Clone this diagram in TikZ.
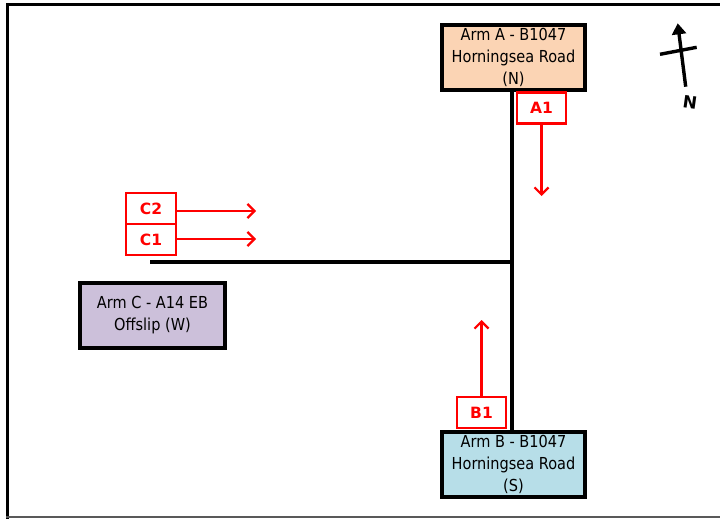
\documentclass[tikz,border=0pt]{standalone}
\usepackage{fontspec}
\setmainfont{DejaVu Sans}
\newfontfamily\armfont{DejaVu Sans}[FakeStretch=0.88]
\usetikzlibrary{arrows.meta}
\definecolor{peach}{HTML}{FBD4B4}
\definecolor{paleblue}{HTML}{B7DEE8}
\definecolor{lavender}{HTML}{CCC0DA}
\begin{document}
\begin{tikzpicture}[x=1pt,y=1pt,
  armbox/.style={draw=black,line width=3.2pt,minimum height=65pt,align=center,inner sep=0pt,
    font=\armfont\fontsize{16.5}{22}\selectfont},
  lbl/.style={draw=red,line width=2.4pt,text=red,minimum width=49pt,minimum height=31pt,inner sep=0pt,
    font=\fontsize{15.5}{17}\selectfont\bfseries},
  road/.style={line width=3.6pt,black},
  flow/.style={red,line width=2.2pt,-{Straight Barb[length=7pt,width=14pt,line width=2.2pt]}}]
\useasboundingbox (0,0) rectangle (720,-519);
% frame
\draw[line width=3.2pt] (7.5,-519) -- (7.5,-4.5) -- (720,-4.5);
\draw[line width=1.5pt,gray!70!black] (6,-517) -- (720,-517);
% arm boxes
\node[armbox,fill=peach,minimum width=143pt] (armA) at (513.5,-57.5) {Arm A - B1047\\Horningsea Road\\(N)};
\node[armbox,fill=paleblue,minimum width=143pt] (armB) at (513.5,-464.5) {Arm B - B1047\\Horningsea Road\\(S)};
\node[armbox,fill=lavender,minimum width=145pt] (armC) at (152.5,-315.5) {Arm C - A14 EB\\Offslip (W)};
% roads
\coordinate (J) at (512,-262);
\coordinate (W) at (150,-262);
\draw[road] (armA.south -| J) -- (armB.north -| J);
\draw[road] (W) -- (J);
% flow labels
\node[lbl] (A1) at (541.5,-108) {A1};
\node[lbl] (B1) at (481.5,-412.5) {B1};
\node[lbl,minimum width=50pt] (C2) at (151,-208.5) {C2};
\node[lbl,minimum width=50pt] (C1) at (151,-239.5) {C1};
\coordinate (a1end) at (541.5,-196);
\coordinate (b1end) at (481.5,-320);
\coordinate (c2end) at (256,-211);
\coordinate (c1end) at (256,-239);
\draw[flow] (A1.south) -- (a1end);
\draw[flow] (B1.north) -- (b1end);
\draw[flow] (C2.east |- c2end) -- (c2end);
\draw[flow] (C1.east |- c1end) -- (c1end);
% north arrow
\coordinate (ntail) at (685.7,-86.7);
\coordinate (ntip) at (677.7,-23.3);
\coordinate (cb1) at (660,-54.3);
\coordinate (cb2) at (696.7,-47.3);
\draw[line width=3.4pt,-{Triangle[length=11pt,width=14pt]}] (ntail) -- (ntip);
\draw[line width=3.4pt] (cb1) -- (cb2);
\node[font=\fontsize{17}{18}\selectfont\bfseries,rotate=-8,inner sep=0pt] (N) at (690,-102) {N};
\end{tikzpicture}
\end{document}
